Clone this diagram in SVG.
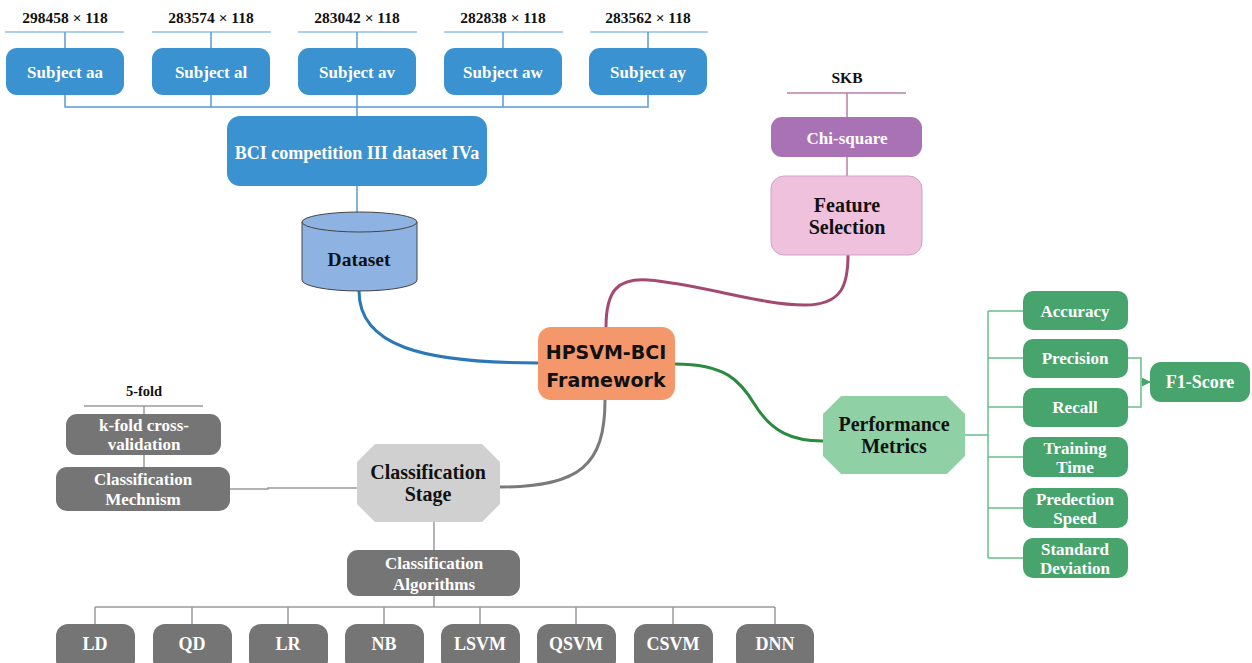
<svg xmlns="http://www.w3.org/2000/svg" width="1252" height="663" viewBox="0 0 1252 663">
<defs>
<style>
text{font-family:"Liberation Serif","Times New Roman",serif;font-weight:bold;text-anchor:middle;dominant-baseline:central}
.w{fill:#ffffff}
.k{fill:#111111}
.blue{fill:#3a92d1}
.gbox{fill:#757575}
.mbox{fill:#46a46c}
.lb{stroke:#5a9bd0;stroke-width:1.5;fill:none}
.lbt{stroke:#8fc2ea;stroke-width:1.5;fill:none}
.lp{stroke:#b97fab;stroke-width:1.5;fill:none}
.lg{stroke:#67c089;stroke-width:1.5;fill:none}
.lgr{stroke:#9a9a9a;stroke-width:1.5;fill:none}
.s15{font-size:15.5px}
.s16{font-size:16.5px}
.s17{font-size:17px}
.s18{font-size:18px}
.s20{font-size:20px}
</style>
<marker id="arr" viewBox="0 0 10 10" refX="9" refY="5" markerWidth="6" markerHeight="6" orient="auto">
<path d="M0,0 L10,5 L0,10 z" fill="#46a46c"/>
</marker>
</defs>
<rect width="1252" height="663" fill="#ffffff"/>

<g id="connectors">
<path class="lbt" d="M5,32 H124 M152,32 H271 M298,32 H417 M444,32 H563 M590,32 H708"/>
<path class="lb" d="M65,32 V48 M211,32 V48 M357,32 V48 M503,32 V48 M648,32 V48"/>
<path class="lb" d="M65,95 V107 H648 V95 M211,95 V107 M503,95 V107 M357,95 V116"/>
<path class="lb" d="M357,186 V213"/>
<path d="M359,291 C359,345 420,363 538,363" stroke="#2a78b8" stroke-width="3" fill="none"/>
<path d="M606,327 C606,290 618,278 648,280 C700,284 760,305 805,305 C842,305 848,285 848,255" stroke="#a44a72" stroke-width="3" fill="none"/>
<path d="M675,364 C725,364 740,380 755,405 C772,432 792,441 823,441" stroke="#2a8a3e" stroke-width="3" fill="none"/>
<path d="M605,400 C605,465 580,487 500,487" stroke="#7a7a7a" stroke-width="3" fill="none"/>
<path class="lp" d="M787,93 H906 M847,93 V117 M847,157 V176"/>
<path class="lg" d="M965,435 H988 M988,311 V558 M988,311 H1023 M988,358 H1023 M988,407 H1023 M988,457 H1023 M988,508 H1023 M988,558 H1023"/>
<path class="lg" d="M1128,358 H1141 V407 H1128"/>
<path class="lg" d="M1141,382 H1150" marker-end="url(#arr)"/>
<path class="lgr" d="M357,488 H268 V489 H230"/>
<path class="lgr" d="M84,406 H203 M144,406 V414 M144,455 V467"/>
<path class="lgr" d="M434,522 V550 M434,596 V607 M95,607 H775 M95,607 V624 M192,607 V624 M288,607 V624 M384,607 V624 M480,607 V624 M576,607 V624 M673,607 V624 M775,607 V624"/>
</g>

<g id="top-labels">
<text class="k s15" x="65" y="17">298458 × 118</text>
<text class="k s15" x="211" y="17">283574 × 118</text>
<text class="k s15" x="357" y="17">283042 × 118</text>
<text class="k s15" x="503" y="17">282838 × 118</text>
<text class="k s15" x="648" y="17">283562 × 118</text>
</g>
<g id="subject-aa"><rect class="blue" x="6" y="48" width="118" height="47" rx="11"/><text class="w s17" x="65" y="72">Subject aa</text></g>
<g id="subject-al"><rect class="blue" x="152" y="48" width="118" height="47" rx="11"/><text class="w s17" x="211" y="72">Subject al</text></g>
<g id="subject-av"><rect class="blue" x="298" y="48" width="118" height="47" rx="11"/><text class="w s17" x="357" y="72">Subject av</text></g>
<g id="subject-aw"><rect class="blue" x="444" y="48" width="118" height="47" rx="11"/><text class="w s17" x="503" y="72">Subject aw</text></g>
<g id="subject-ay"><rect class="blue" x="589" y="48" width="118" height="47" rx="11"/><text class="w s17" x="648" y="72">Subject ay</text></g>
<g id="bci"><rect class="blue" x="227" y="116" width="260" height="70" rx="13"/><text class="w s18" x="357" y="153">BCI competition III dataset IVa</text></g>

<g id="dataset">
<path d="M302,222 V280 A57.5,11 0 0 0 417,280 V222" fill="#8eb3e2" stroke="#444" stroke-width="1"/>
<ellipse cx="359.5" cy="222" rx="57.5" ry="10" fill="#8eb3e2" stroke="#444" stroke-width="1"/>
<text class="k" style="font-size:19.5px" x="359" y="259">Dataset</text>
</g>

<g id="hpsvm">
<rect x="538" y="327" width="137" height="73" rx="13" fill="#f4976a"/>
<text class="k" style="font-family:'DejaVu Sans',sans-serif;font-size:19px" x="606" y="352">HPSVM-BCI</text>
<text class="k" style="font-family:'DejaVu Sans',sans-serif;font-size:19px" x="606" y="380">Framework</text>
</g>

<g id="skb"><text class="k s15" x="847" y="77">SKB</text></g>
<g id="chi-square"><rect x="771" y="117" width="151" height="40" rx="11" fill="#a872b4"/><text class="w s17" x="847" y="138">Chi-square</text></g>
<g id="feature-selection">
<rect x="771" y="176" width="151" height="79" rx="13" fill="#f0c1dc" stroke="#cfa3cf" stroke-width="1"/>
<text class="k s20" x="847" y="205">Feature</text><text class="k s20" x="847" y="227">Selection</text>
</g>

<g id="performance-metrics">
<polygon points="841,396 947,396 965,414 965,456 947,474 841,474 823,456 823,414" fill="#8fd1a5"/>
<text class="k s20" x="894" y="424">Performance</text><text class="k s20" x="894" y="446">Metrics</text>
</g>
<g id="accuracy"><rect class="mbox" x="1023" y="291" width="105" height="39" rx="10"/><text class="w s17" x="1075" y="311">Accuracy</text></g>
<g id="precision"><rect class="mbox" x="1023" y="339" width="105" height="39" rx="10"/><text class="w s17" x="1075" y="358">Precision</text></g>
<g id="recall"><rect class="mbox" x="1023" y="388" width="105" height="39" rx="10"/><text class="w s17" x="1075" y="407">Recall</text></g>
<g id="training-time"><rect class="mbox" x="1023" y="437" width="105" height="40" rx="10"/><text class="w s17" x="1075" y="448">Training</text><text class="w s17" x="1075" y="467">Time</text></g>
<g id="prediction-speed"><rect class="mbox" x="1023" y="488" width="105" height="40" rx="10"/><text class="w s17" x="1075" y="499">Predection</text><text class="w s17" x="1075" y="518">Speed</text></g>
<g id="standard-deviation"><rect class="mbox" x="1023" y="538" width="105" height="40" rx="10"/><text class="w s17" x="1075" y="549">Standard</text><text class="w s17" x="1075" y="568">Deviation</text></g>
<g id="f1-score"><rect class="mbox" x="1150" y="362" width="100" height="40" rx="11"/><text class="w s18" x="1200" y="382">F1-Score</text></g>

<g id="classification-stage">
<polygon points="375,444 482,444 500,462 500,504 482,522 375,522 357,504 357,462" fill="#d0d0d0"/>
<text class="k s20" x="428" y="472">Classification</text><text class="k s20" x="428" y="494">Stage</text>
</g>
<g id="five-fold"><text class="k" style="font-size:14.5px" x="144" y="391">5-fold</text></g>
<g id="kfold"><rect class="gbox" x="66" y="414" width="155" height="41" rx="11"/><text class="w s17" x="144" y="425">k-fold cross-</text><text class="w s17" x="144" y="444">validation</text></g>
<g id="mechanism"><rect class="gbox" x="56" y="467" width="174" height="44" rx="11"/><text class="w s17" x="143" y="479">Classification</text><text class="w s17" x="143" y="499">Mechnism</text></g>
<g id="algorithms"><rect class="gbox" x="347" y="550" width="173" height="46" rx="11"/><text class="w s17" x="434" y="563">Classification</text><text class="w s17" x="434" y="584">Algorithms</text></g>

<g id="ld"><rect class="gbox" x="56" y="624" width="79" height="48" rx="12"/><text class="w s18" x="95" y="644">LD</text></g>
<g id="qd"><rect class="gbox" x="153" y="624" width="79" height="48" rx="12"/><text class="w s18" x="192" y="644">QD</text></g>
<g id="lr"><rect class="gbox" x="249" y="624" width="79" height="48" rx="12"/><text class="w s18" x="288" y="644">LR</text></g>
<g id="nb"><rect class="gbox" x="345" y="624" width="79" height="48" rx="12"/><text class="w s18" x="384" y="644">NB</text></g>
<g id="lsvm"><rect class="gbox" x="441" y="624" width="79" height="48" rx="12"/><text class="w s18" x="480" y="644">LSVM</text></g>
<g id="qsvm"><rect class="gbox" x="537" y="624" width="79" height="48" rx="12"/><text class="w s18" x="576" y="644">QSVM</text></g>
<g id="csvm"><rect class="gbox" x="634" y="624" width="79" height="48" rx="12"/><text class="w s18" x="673" y="644">CSVM</text></g>
<g id="dnn"><rect class="gbox" x="736" y="624" width="78" height="48" rx="12"/><text class="w s18" x="775" y="644">DNN</text></g>
</svg>
